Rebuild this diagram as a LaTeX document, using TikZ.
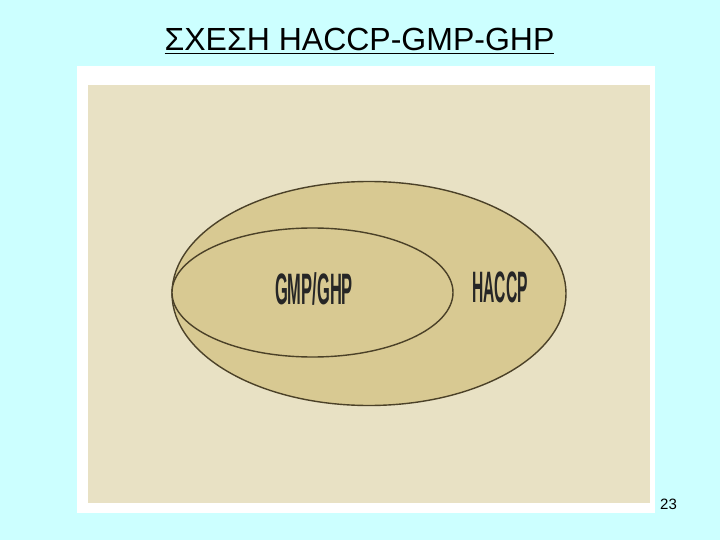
\documentclass[tikz,border=0pt]{standalone}
\usepackage{fontspec}
\setmainfont{Liberation Sans}
\definecolor{bgcyan}{RGB}{204,255,255}
\definecolor{paper}{RGB}{232,225,196}
\definecolor{egg}{RGB}{216,201,146}
\definecolor{rim}{RGB}{75,65,40}
\begin{document}
\begin{tikzpicture}[x=1pt,y=-1pt,
  ring/.style={draw=rim,line width=1.4pt,fill=egg},
  bigword/.style={font=\bfseries\fontsize{44}{44}\selectfont,text=black!85,inner sep=0pt}]
\fill[bgcyan] (0,0) rectangle (720,540);
\useasboundingbox (0,0) rectangle (720,540);
\fill[white] (77,66) rectangle (655,513);
\fill[paper] (88,85) rectangle (650,503);
\draw[ring] (369,293.5) ellipse [x radius=197, y radius=112];
\draw[ring] (312.5,292.5) ellipse [x radius=140.5, y radius=64.5];
\node[bigword] (gmp) at (314,289) {\scalebox{0.375}[1]{GMP/GHP}};
\node[bigword] (haccp) at (500,287) {\scalebox{0.355}[1]{HACCP}};
\node[inner sep=0pt,anchor=base,font=\fontsize{32}{32}\selectfont] (title) at (359.5,51) {\underline{ΣΧΕΣΗ HACCP-GMP-GHP}};
\node[inner sep=0pt,anchor=base,font=\fontsize{15}{15}\selectfont] (page) at (668.5,509) {23};
\end{tikzpicture}
\end{document}
